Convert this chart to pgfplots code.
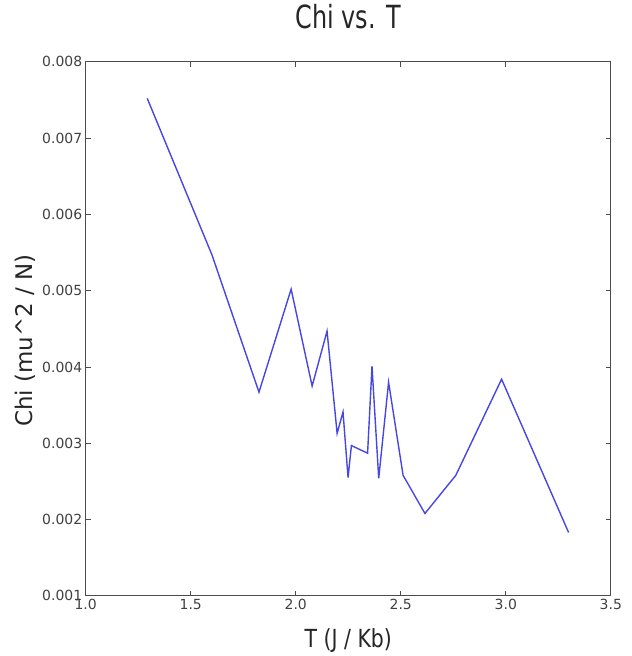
\documentclass[border=0pt]{standalone}
\usepackage{fontspec}
\setmainfont{DejaVu Sans}
\newfontfamily\narrowfont[FakeStretch=0.75]{DejaVu Sans}
\newfontfamily\xlabfont[FakeStretch=0.82]{DejaVu Sans}
\usepackage{pgfplots}
\pgfplotsset{compat=1.18}
\definecolor{lineblue}{RGB}{70,70,228}
\begin{document}
\begin{tikzpicture}
\begin{axis}[
  name=ax,
  width=527pt, height=536pt, scale only axis,
  xmin=1.0, xmax=3.5, ymin=0.001, ymax=0.008,
  xtick={1.0,1.5,2.0,2.5,3.0,3.5},
  ytick={0.001,0.002,0.003,0.004,0.005,0.006,0.007,0.008},
  tick align=inside, major tick length=5pt,
  tick style={black!70, line width=0.8pt},
  axis line style={black!70, line width=1.2pt},
  scaled y ticks=false, scaled x ticks=false,
  /pgf/number format/assume math mode=true,
  xticklabel style={/pgf/number format/fixed, /pgf/number format/precision=1, /pgf/number format/fixed zerofill, font=\fontsize{14}{15}\selectfont, text=black!75},
  yticklabel style={/pgf/number format/fixed, /pgf/number format/precision=3, /pgf/number format/fixed zerofill, font=\fontsize{14}{15}\selectfont, text=black!75},
  title={Chi vs. T},
  title style={at={(axis description cs:0.5,1)}, anchor=base, yshift=27pt, font=\narrowfont\fontsize{32}{36}\selectfont, text=black!85},
  xlabel={T (J / Kb)},
  xlabel style={at={(axis description cs:0.5,0)}, anchor=base, yshift=-52pt, font=\xlabfont\fontsize{25}{30}\selectfont, text=black!85},
  ylabel={Chi (mu\^{}2 / N)},
  ylabel style={at={(axis description cs:-0.1006,0.478)}, anchor=base, rotate=0, font=\fontsize{23}{28}\selectfont, text=black!85},
]
\addplot[color=lineblue, line width=1.4pt, mark=none] coordinates {
(1.293,0.00752)
(1.601,0.00547)
(1.825,0.00367)
(1.978,0.00502)
(2.078,0.00375)
(2.149,0.00447)
(2.197,0.00313)
(2.225,0.00341)
(2.249,0.00255)
(2.265,0.00297)
(2.342,0.00287)
(2.363,0.00401)
(2.395,0.00254)
(2.442,0.00380)
(2.511,0.00258)
(2.615,0.00208)
(2.762,0.00258)
(2.980,0.00384)
(3.299,0.00183)
};
\end{axis}
\path[use as bounding box] ([xshift=-86pt,yshift=-58pt]ax.south west) rectangle ([xshift=21pt,yshift=62pt]ax.north east);
\end{tikzpicture}
\end{document}
